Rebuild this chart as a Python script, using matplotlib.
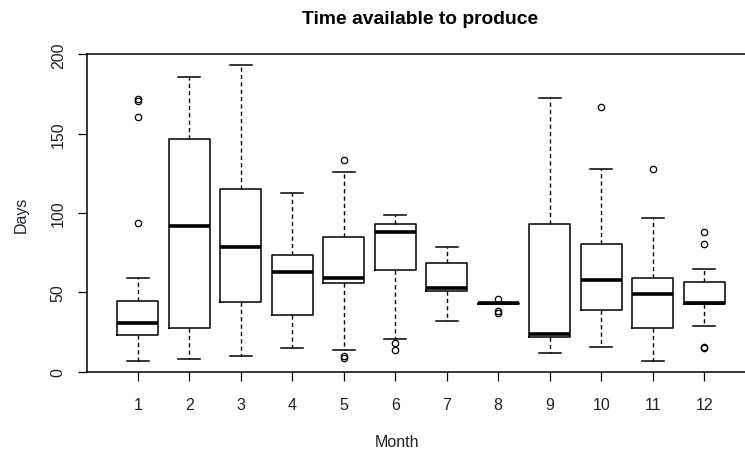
import matplotlib
matplotlib.use("Agg")
import matplotlib.pyplot as plt

plt.rcParams['font.family'] = ['Liberation Sans', 'DejaVu Sans']

months = ["1", "2", "3", "4", "5", "6", "7", "8", "9", "10", "11", "12"]
whislo = [6.7, 8.0, 10.1, 14.9, 13.7, 20.6, 31.7, 43.0, 12.0, 15.5, 6.7, 29.0]
q1     = [23.1, 27.5, 43.9, 35.7, 55.8, 64.2, 50.6, 42.8, 21.8, 38.8, 27.5, 42.6]
med    = [30.7, 91.9, 78.5, 63.0, 59.0, 88.1, 52.7, 43.0, 23.7, 57.9, 48.9, 43.2]
q3     = [44.3, 146.9, 115.0, 73.5, 84.8, 93.2, 68.4, 43.2, 93.2, 80.4, 59.0, 56.5]
whishi = [59.2, 185.7, 193.1, 112.5, 125.9, 98.8, 78.5, 43.0, 172.5, 127.8, 96.8, 64.7]
fliers = [
    [171.8, 170.8, 160.5, 93.6],
    [],
    [],
    [],
    [133.5, 10.1, 8.6],
    [18.1, 13.7],
    [],
    [45.8, 38.4, 37.0],
    [],
    [166.8],
    [127.8],
    [88.1, 80.4, 15.1, 15.3],
]

stats = []
for i, m in enumerate(months):
    stats.append(dict(label=m, whislo=whislo[i], q1=q1[i], med=med[i],
                      q3=q3[i], whishi=whishi[i], fliers=fliers[i]))

W, H = 745, 452
fig = plt.figure(figsize=(W / 100, H / 100), dpi=100)
ax = fig.add_axes([87.3 / W, (H - 373.3) / H, 667.4 / W, (373.3 - 54.7) / H])

ax.bxp(stats, positions=range(1, 13), widths=0.8, capwidths=0.42,
       boxprops=dict(color='black', linewidth=1.1),
       whiskerprops=dict(color='black', linewidth=1.0, linestyle=(0, (3, 2.3))),
       capprops=dict(color='black', linewidth=1.1),
       medianprops=dict(color='black', linewidth=2.6, solid_capstyle='butt'),
       flierprops=dict(marker='o', markersize=4.6, markerfacecolor='none',
                       markeredgecolor='black', markeredgewidth=0.9,
                       linestyle='none'))

ax.set_xlim(0.02, 12.98)
ax.set_ylim(-0.44, 200.44)
ax.set_yticks([0, 50, 100, 150, 200])
ax.set_yticklabels(["0", "50", "100", "150", "200"], rotation=90, va='center')
ax.set_xticks(range(1, 13))
ax.set_xticklabels(months)
ax.tick_params(axis='both', direction='out', length=6.5, width=0.9,
               labelsize=11.5, colors='black', labelcolor='#222222')
ax.tick_params(axis='x', pad=11)
ax.tick_params(axis='y', pad=9)
for s in ax.spines.values():
    s.set_linewidth(1.1)

fig.text(420 / W, 1 - 24 / H, "Time available to produce", fontsize=13.9,
         fontweight='bold', ha='center', va='baseline', color='black')
fig.text(397 / W, 1 - 443 / H, "Month", fontsize=11.5, ha='center',
         va='center', color='#222222')
fig.text(21 / W, 1 - 215 / H, "Days", fontsize=11.5, ha='center',
         va='center', rotation=90, color='#1a2238')

fig.savefig("out.png", dpi=100)
